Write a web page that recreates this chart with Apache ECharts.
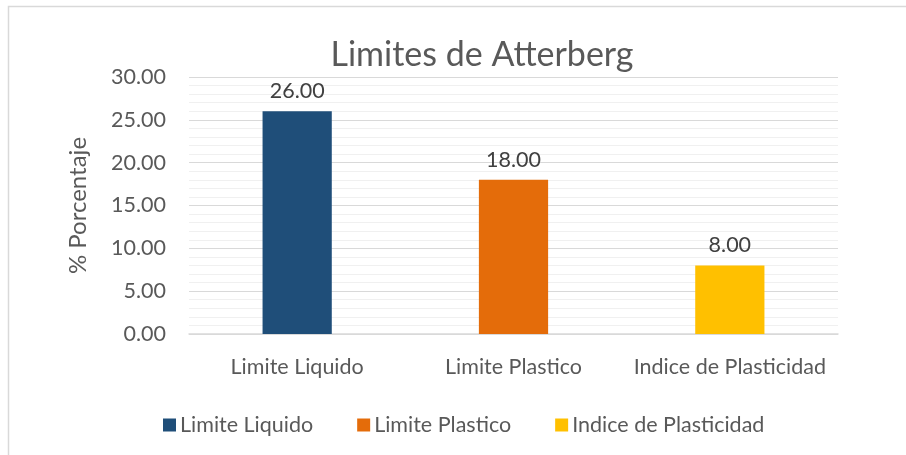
<!DOCTYPE html>
<html><head><meta charset="utf-8">
<script src="https://cdn.jsdelivr.net/npm/echarts@6/dist/echarts.min.js"></script>
<style>html,body{margin:0;padding:0;background:#fff}#c{width:906px;height:455px}</style>
</head><body><div id="c"></div>
<script>
const categories = ['Limite Liquido', 'Limite Plastico', 'Indice de Plasticidad'];
const values = [26.00, 18.00, 8.00];
const colors = ['#1F4E79', '#E46C0A', '#FFC000'];
const yTicks = [0, 5, 10, 15, 20, 25, 30];

const FONT = 'Lato';
const FS = 21.5;
const series = categories.map((name, i) => ({
  name: name,
  type: 'bar',
  stack: 'one',
  barWidth: '32%',
  itemStyle: { color: colors[i] },
  data: categories.map((c, j) => j === i ? values[i] : '-'),
  label: {
    show: true, position: 'top', distance: 9,
    formatter: p => Number(p.value).toFixed(2),
    fontFamily: FONT, fontSize: FS, color: '#404040'
  }
}));

const chart = echarts.init(document.getElementById('c'), null, { renderer: 'canvas' });
chart.setOption({
  animation: false,
  graphic: [{ type: 'rect', shape: { x: 8.5, y: 6.5, width: 1200, height: 1200 }, style: { fill: 'none', stroke: '#D9D9D9', lineWidth: 1.5 }, z: -1 }],
  title: {
    text: 'Limites de Atterberg', left: 477, top: 33, textAlign: 'center',
    textStyle: { fontFamily: FONT, fontSize: 34, fontWeight: 'normal', color: '#595959' }
  },
  legend: {
    top: 409, left: 158, itemWidth: 13, itemHeight: 13, itemGap: 44, icon: 'rect',
    textStyle: { fontFamily: FONT, fontSize: FS, color: '#595959', padding: [0, 0, 0, -1] },
    data: categories
  },
  grid: { left: 189, right: 68, top: 77, bottom: 121, containLabel: false },
  xAxis: {
    type: 'category', data: categories,
    axisLine: { lineStyle: { color: '#D9D9D9', width: 1.5 } },
    axisTick: { show: false },
    axisLabel: { fontFamily: FONT, fontSize: FS, color: '#595959', margin: 22, interval: 0, hideOverlap: false }
  },
  yAxis: {
    type: 'value', min: 0, max: 30, interval: 5,
    name: '% Porcentaje', nameLocation: 'middle', nameGap: 99, nameRotate: 90,
    nameTextStyle: { fontFamily: FONT, fontSize: 24, color: '#595959' },
    axisLabel: { fontFamily: FONT, fontSize: FS, color: '#595959', margin: 23,
      formatter: v => yTicks.includes(v) ? v.toFixed(2) : '' },
    axisLine: { show: false }, axisTick: { show: false },
    splitLine: { lineStyle: { color: '#D9D9D9', width: 1.2 } },
    minorTick: { show: false, splitNumber: 5 },
    minorSplitLine: { show: true, lineStyle: { color: '#F0F0F0', width: 1.2 } }
  },
  series: series
});
</script></body></html>
